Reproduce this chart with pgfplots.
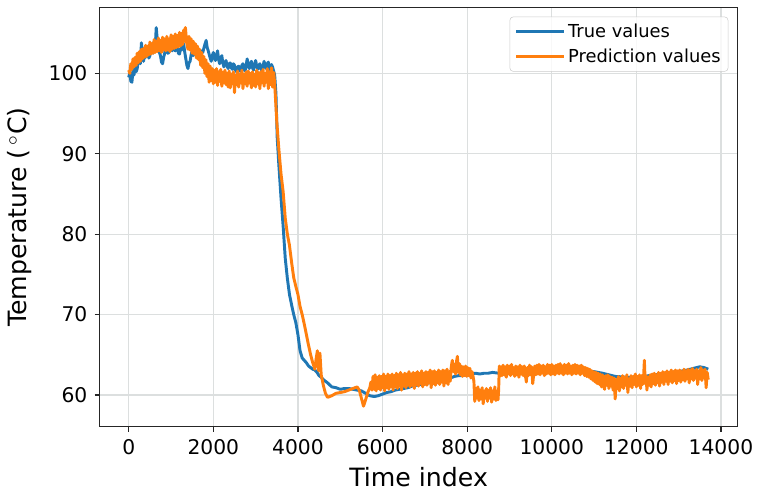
\documentclass[border=0pt]{standalone}
\usepackage{fontspec}
\setmainfont{DejaVu Sans}
\usepackage{pgfplots}
\usepackage{pgfplotstable}
\pgfplotsset{compat=1.18}
\usetikzlibrary{calc}

\definecolor{mplblue}{HTML}{1F77B4}
\definecolor{mplorange}{HTML}{FF7F0E}
\definecolor{gridgray}{HTML}{DCDFDF}
\definecolor{axisgray}{HTML}{262626}

% measured temperature
\pgfplotstableread{
x y
0 99.5
25 100.1
50 99.0
75 98.9
100 100.3
125 99.8
150 101.0
175 100.2
200 100.6
225 101.5
250 102.3
275 101.2
300 103.8
325 102.6
350 101.5
375 102.4
400 102.0
425 103.0
450 102.8
475 101.9
500 102.2
525 103.0
550 103.2
575 102.5
600 104.0
625 103.1
650 105.7
675 104.2
700 103.0
725 102.6
750 102.2
775 101.4
800 101.2
825 102.0
850 102.5
875 103.4
900 103.2
925 102.5
950 102.6
975 103.5
1000 103.4
1025 102.8
1050 103.7
1075 103.0
1100 102.8
1125 103.6
1150 103.3
1175 102.5
1200 102.4
1225 103.1
1250 102.9
1275 103.8
1300 103.6
1325 102.6
1350 101.8
1375 101.0
1400 100.6
1425 101.3
1450 101.5
1475 102.3
1500 102.8
1525 102.2
1550 103.5
1575 102.6
1600 102.2
1625 102.9
1650 103.0
1675 102.3
1700 102.0
1725 102.8
1750 102.6
1775 103.1
1800 103.6
1830 104.1
1855 103.2
1880 102.8
1915 102.1
1950 101.5
1975 102.2
2000 102.6
2025 101.9
2050 101.6
2075 102.3
2100 102.8
2125 101.7
2150 101.2
2175 101.9
2200 102.2
2225 101.3
2250 100.8
2275 101.4
2300 101.6
2325 100.9
2350 100.6
2375 101.2
2400 101.3
2425 100.7
2450 100.5
2475 101.2
2500 101.0
2525 100.4
2550 100.2
2575 100.8
2600 100.9
2625 100.3
2650 100.4
2675 101.0
2700 101.2
2725 100.5
2750 100.3
2775 101.0
2800 101.8
2825 101.0
2850 100.6
2875 101.2
2900 101.5
2925 100.7
2950 100.4
2975 101.1
3000 101.6
3025 100.9
3050 100.5
3075 101.0
3100 101.2
3125 100.6
3150 100.3
3175 100.9
3200 101.5
3225 100.8
3250 100.6
3275 101.2
3300 101.4
3325 100.7
3350 100.4
3375 101.1
3400 100.8
3425 100.3
3450 99.8
3480 97.5
3510 92.0
3550 88.5
3600 84.5
3650 81.0
3700 77.0
3750 74.5
3800 72.5
3850 71.2
3900 70.0
3950 69.0
4000 67.5
4050 65.5
4100 64.6
4150 64.3
4200 64.0
4250 63.6
4300 63.4
4350 63.2
4400 63.1
4450 62.8
4500 62.4
4550 62.2
4600 61.9
4700 61.5
4800 61.0
4900 60.9
5000 60.7
5100 60.8
5200 60.8
5300 60.7
5400 60.6
5500 60.5
5600 60.2
5700 59.9
5800 59.8
5900 59.9
6000 60.1
6100 60.3
6200 60.4
6300 60.6
6400 60.7
6500 60.8
6600 60.9
6700 61.1
6800 61.2
6900 61.3
7000 61.4
7100 61.5
7200 61.6
7300 61.7
7400 61.8
7500 61.9
7600 62.1
7700 62.3
7800 62.4
7900 62.4
8000 62.5
8100 62.6
8200 62.7
8300 62.6
8400 62.7
8500 62.7
8600 62.8
8750 62.7
8800 62.8
9000 63.0
9200 62.9
9500 63.1
9800 63.0
10000 63.2
10300 63.1
10500 63.1
10800 63.0
11000 62.9
11200 62.7
11500 62.3
11800 62.2
12000 62.2
12200 62.3
12400 62.5
12600 62.6
12800 62.8
13000 62.9
13200 63.1
13350 63.3
13500 63.5
13600 63.4
13700 63.2
}\truevalues

% model output
\pgfplotstableread{
x y
0 100.4
25 100.0
50 101.2
75 100.5
100 101.8
125 100.8
150 102.0
175 101.0
200 102.5
225 101.3
250 102.7
275 101.5
300 103.0
325 101.8
350 103.1
375 102.0
400 103.5
425 102.1
450 103.4
475 102.3
500 103.9
525 102.4
550 103.7
575 102.5
600 104.2
625 102.6
650 104.0
675 102.7
700 104.4
725 102.8
750 104.1
775 102.6
800 104.5
825 102.9
850 104.3
875 102.8
900 104.6
925 102.9
950 104.3
975 102.7
1000 104.8
1025 103.0
1050 104.6
1075 103.1
1100 104.9
1125 103.2
1150 104.7
1175 103.3
1200 105.1
1225 103.4
1250 105.0
1275 103.6
1300 105.4
1320 104.0
1340 105.7
1370 103.8
1400 103.0
1425 104.6
1450 102.9
1475 104.3
1500 102.5
1525 104.0
1550 102.4
1575 103.7
1600 101.9
1625 103.4
1650 101.7
1675 103.0
1700 101.0
1725 102.6
1750 100.7
1775 102.1
1800 100.0
1825 101.7
1850 99.6
1875 101.2
1900 98.9
1925 100.9
1950 99.1
1975 100.6
2000 98.7
2025 100.4
2050 98.9
2075 100.6
2100 98.5
2125 100.2
2150 99.0
2175 100.5
2200 98.4
2225 100.1
2250 98.8
2275 100.4
2300 98.6
2325 100.0
2350 98.3
2375 100.3
2400 98.2
2425 99.9
2450 98.7
2475 100.2
2500 97.6
2525 99.8
2550 98.6
2575 100.3
2600 98.3
2625 99.9
2650 98.8
2675 100.4
2700 98.1
2725 99.9
2750 98.7
2775 100.2
2800 98.4
2825 100.3
2850 98.8
2875 100.0
2900 98.2
2925 100.2
2950 98.5
2975 99.9
3000 98.3
3025 100.4
3050 98.7
3075 100.1
3100 98.1
3125 100.2
3150 98.8
3175 100.5
3200 98.4
3225 100.0
3250 98.9
3275 100.6
3300 98.1
3325 100.2
3350 98.6
3375 100.7
3400 98.3
3430 100.1
3460 97.8
3500 94.0
3550 90.5
3600 87.5
3650 85.3
3700 82.0
3750 80.0
3800 78.6
3850 76.5
3900 74.6
3950 73.5
4000 72.5
4050 71.0
4100 70.0
4150 68.8
4200 67.5
4250 66.2
4300 65.0
4350 64.0
4400 63.2
4430 64.5
4460 65.5
4490 63.0
4520 65.2
4550 62.5
4600 61.2
4650 60.2
4700 59.7
4750 59.8
4800 59.9
4900 60.2
5000 60.3
5100 60.4
5200 60.6
5300 60.8
5400 61.0
5450 60.6
5500 59.6
5550 58.6
5600 59.4
5650 60.3
5700 60.9
5725 61.6
5750 60.6
5775 62.3
5800 60.7
5825 62.5
5850 60.5
5875 62.2
5900 60.8
5925 62.4
5950 60.6
5975 62.3
6000 60.9
6025 62.6
6050 60.5
6075 62.3
6100 60.9
6125 62.6
6150 60.7
6175 62.4
6200 61.0
6225 62.6
6250 60.6
6275 62.4
6300 61.0
6325 62.7
6350 60.8
6375 62.5
6400 61.1
6425 62.8
6450 60.6
6475 62.5
6500 61.1
6525 62.7
6550 60.9
6575 62.6
6600 61.2
6625 62.9
6650 61.0
6675 62.6
6700 61.2
6725 62.8
6750 60.8
6775 62.7
6800 61.3
6825 62.9
6850 61.1
6875 62.7
6900 61.4
6925 63.0
6950 61.0
6975 62.7
7000 61.3
7025 62.9
7050 61.2
7075 62.8
7100 61.5
7125 63.1
7150 60.9
7175 62.9
7200 61.4
7225 63.0
7250 61.2
7275 62.8
7300 61.5
7325 63.1
7350 61.3
7375 62.9
7400 61.6
7425 63.1
7450 61.1
7475 63.0
7500 61.5
7525 63.2
7550 61.3
7575 62.9
7600 61.7
7625 63.5
7650 64.3
7675 62.9
7700 63.8
7725 62.6
7750 64.2
7770 64.8
7790 62.8
7815 63.9
7840 62.5
7865 63.6
7890 62.3
7915 63.5
7940 62.4
7965 63.6
7990 62.3
8015 63.4
8040 62.4
8065 63.3
8090 62.1
8115 62.9
8140 62.3
8160 61.7
8180 59.2
8205 60.8
8230 59.6
8255 61.0
8280 59.3
8305 60.6
8330 59.5
8355 60.9
8380 58.9
8405 60.5
8430 59.6
8455 60.8
8480 59.2
8505 60.6
8530 59.6
8555 60.9
8580 59.1
8605 60.5
8630 59.5
8655 61.0
8680 59.3
8705 60.4
8730 59.4
8745 60.6
8760 63.6
8775 62.3
8800 63.5
8825 62.4
8850 63.7
8875 62.5
8900 63.5
8925 62.2
8950 63.7
8975 62.6
9000 63.6
9025 62.4
9050 63.8
9075 62.6
9100 63.4
9125 62.3
9150 63.6
9175 62.5
9200 63.5
9225 62.2
9250 63.7
9275 62.6
9300 63.5
9325 62.4
9350 63.6
9375 62.5
9400 61.6
9425 63.4
9450 62.4
9475 63.7
9500 62.5
9525 63.5
9550 61.4
9575 62.6
9600 63.6
9625 62.5
9650 63.7
9675 62.6
9700 63.8
9725 62.5
9750 63.6
9775 62.7
9800 63.7
9825 62.4
9850 63.5
9875 62.6
9900 63.8
9925 62.7
9950 63.7
9975 62.5
10000 63.8
10025 62.6
10050 63.6
10075 62.5
10100 63.7
10125 62.7
10150 63.8
10175 62.6
10200 63.9
10225 62.7
10250 63.6
10275 62.5
10300 63.8
10325 62.7
10350 63.7
10375 62.6
10400 63.9
10425 62.7
10450 63.6
10475 62.5
10500 63.7
10525 62.7
10550 63.8
10575 62.6
10600 63.7
10625 62.7
10650 63.6
10675 62.5
10700 63.7
10725 62.7
10750 63.5
10775 62.4
10800 63.4
10825 62.3
10850 63.3
10875 62.2
10900 63.2
10925 62.0
10950 63.0
10975 61.8
11000 62.9
11025 61.6
11050 62.8
11075 61.4
11100 62.7
11125 61.3
11150 62.6
11175 61.0
11200 62.5
11225 61.1
11250 60.7
11275 62.4
11300 61.2
11325 62.5
11350 60.8
11375 62.3
11400 61.1
11425 62.2
11450 60.6
11475 62.1
11500 59.5
11525 61.9
11550 60.8
11575 62.3
11600 60.5
11625 62.1
11650 61.0
11675 62.4
11700 60.8
11725 62.2
11750 61.2
11775 62.5
11800 60.3
11825 62.0
11850 61.1
11875 62.4
11900 60.9
11925 62.3
11950 61.3
11975 62.6
12000 61.0
12025 62.3
12050 61.2
12075 62.5
12100 60.8
12125 62.4
12150 61.3
12175 62.6
12190 64.3
12210 61.4
12230 62.4
12250 60.6
12275 62.2
12300 61.2
12325 62.5
12350 61.0
12375 62.6
12400 61.4
12425 62.7
12450 61.2
12475 62.5
12500 61.5
12525 62.8
12550 61.1
12575 62.7
12600 61.6
12625 62.9
12650 61.3
12675 62.8
12700 61.7
12725 63.0
12750 61.3
12775 62.8
12800 61.7
12825 63.1
12850 61.5
12875 62.9
12900 61.8
12925 63.1
12950 61.4
12975 63.0
13000 61.8
13025 63.1
13050 61.6
13075 62.9
13100 61.9
13125 63.2
13150 61.7
13175 63.0
13200 62.0
13225 63.2
13250 61.5
13275 63.1
13300 62.0
13325 63.3
13350 61.8
13375 63.0
13400 62.1
13425 63.2
13450 61.3
13475 63.0
13500 62.0
13525 63.4
13550 61.8
13575 63.1
13600 62.1
13625 63.2
13650 60.9
13675 62.8
13700 61.9
}\predvalues

\begin{document}
\begin{tikzpicture}
\begin{axis}[
  scale only axis,
  width=478.4pt, height=314.4pt,
  xmin=-686, xmax=14391,
  ymin=56.06, ymax=108.2,
  xtick={0,2000,...,14000},
  ytick={60,70,80,90,100},
  scaled x ticks=false,
  axis line style={axisgray, line width=0.9pt},
  tick style={axisgray, line width=0.9pt},
  tick align=outside,
  major tick length=3.75pt,
  xtick pos=bottom, ytick pos=left,
  grid=major,
  major grid style={gridgray, line width=0.9pt},
  tick label style={font=\fontsize{15.2}{17}\selectfont},
  xticklabel style={yshift=-2.5pt},
  yticklabel style={xshift=-2pt},
  label style={font=\fontsize{18.9}{22}\selectfont},
  xlabel style={yshift=-2.5pt},
  ylabel style={yshift=6pt},
  /pgf/number format/assume math mode=true,
  /pgf/number format/1000 sep={},
  xlabel={Time index},
  ylabel={Temperature (\,$^\circ$C)},
  legend cell align=left,
  legend style={
    at={(1,1)}, anchor=north east,
    xshift=-6.9pt, yshift=-6.9pt,
    draw=black!20, fill=white, fill opacity=0.8, text opacity=1,
    rounded corners=2.5pt,
    font=\fontsize{13.4}{16}\selectfont,
    inner xsep=3.5pt, inner ysep=3pt,
    row sep=3.5pt,
  },
  legend image code/.code={%
    \draw[#1, line width=2.2pt] (0pt,0pt) -- (30pt,0pt);
    \path (0pt,0pt) -- (36pt,0pt);},
  every axis plot/.append style={line width=2.2pt, line join=round, no markers},
]
\addplot[mplblue] table[x=x, y=y] {\truevalues};
\addlegendentry{True values}
\addplot[mplorange] table[x=x, y=y] {\predvalues};
\addlegendentry{Prediction values}
\coordinate (sw) at (rel axis cs:0,0);
\coordinate (ne) at (rel axis cs:1,1);
\end{axis}
\pgfresetboundingbox
\path[use as bounding box] ($(sw)+(-74.8pt,-49pt)$) rectangle ($(ne)+(15.4pt,5.6pt)$);
\end{tikzpicture}
\end{document}
